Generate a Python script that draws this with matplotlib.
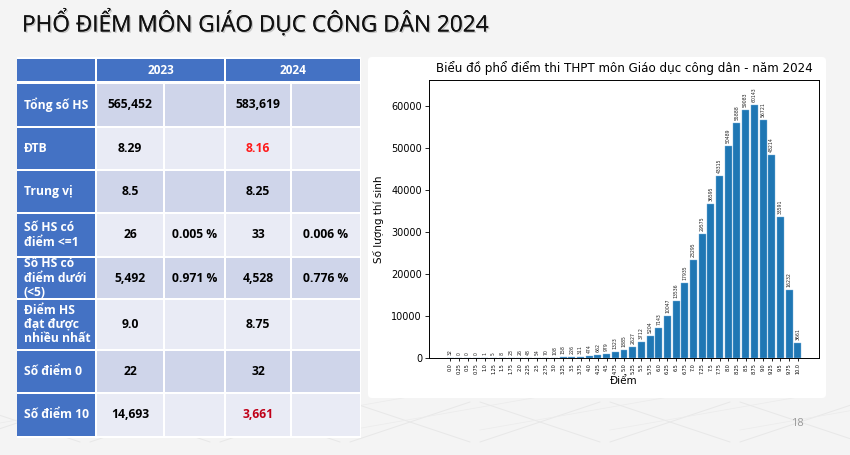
import matplotlib
matplotlib.use("Agg")
import matplotlib.pyplot as plt
from matplotlib.patches import Rectangle, FancyBboxPatch
import matplotlib.patheffects as pe
import numpy as np

# ---------------- data ----------------
scores = ["0.0", "0.25", "0.5", "0.75", "1.0", "1.25", "1.5", "1.75", "2.0", "2.25",
          "2.5", "2.75", "3.0", "3.25", "3.5", "3.75", "4.0", "4.25", "4.5", "4.75",
          "5.0", "5.25", "5.5", "5.75", "6.0", "6.25", "6.5", "6.75", "7.0", "7.25",
          "7.5", "7.75", "8.0", "8.25", "8.5", "8.75", "9.0", "9.25", "9.5", "9.75", "10.0"]
counts = [32, 0, 0, 0, 1, 5, 8, 23, 26, 48,
          54, 70, 108, 158, 226, 311, 474, 662, 979, 1323,
          1885, 2627, 3712, 5204, 7143, 10047, 13536, 17935, 23295, 29575,
          36595, 43315, 50489, 55888, 59083, 60143, 56721, 48214, 33591, 16232, 3661]

row_labels = ["Tổng số HS", "ĐTB", "Trung vị", "Số HS có\nđiểm <=1",
              "Số HS có\nđiểm dưới\n(<5)", "Điểm HS\nđạt được\nnhiều nhất",
              "Số điểm 0", "Số điểm 10"]
years = ["2023", "2024"]
v2023 = ["565,452", "8.29", "8.5", "26", "5,492", "9.0", "22", "14,693"]
p2023 = ["", "", "", "0.005 %", "0.971 %", "", "", ""]
v2024 = ["583,619", "8.16", "8.25", "33", "4,528", "8.75", "32", "3,661"]
p2024 = ["", "", "", "0.006 %", "0.776 %", "", "", ""]

title = "PHỔ ĐIỂM MÔN GIÁO DỤC CÔNG DÂN 2024"
chart_title = "Biểu đồ phổ điểm thi THPT môn Giáo dục công dân - năm 2024"

# ---------------- figure ----------------
W, H = 850, 455
fig = plt.figure(figsize=(W / 100, H / 100), dpi=100)
fig.patch.set_facecolor("#f4f4f4")

ax0 = fig.add_axes([0, 0, 1, 1])
ax0.set_xlim(0, W)
ax0.set_ylim(H, 0)
ax0.axis("off")

# decorative faint lines at the bottom
for x0 in range(-40, 900, 130):
    ax0.plot([x0, x0 + 120], [402, 442], color="#e8e8e8", lw=0.7, zorder=0)
    ax0.plot([x0 + 120, x0], [402, 442], color="#e8e8e8", lw=0.7, zorder=0)
    ax0.plot([x0, x0 + 200], [430, 395], color="#ebebeb", lw=0.5, zorder=0)

# title
ax0.text(22, 23, title, fontsize=16.3, family="Open Sans", color="#111111",
         va="center", ha="left",
         path_effects=[pe.withSimplePatchShadow(offset=(1, -1), shadow_rgbFace="#999999", alpha=0.5),
                       pe.Normal()])

# ---------------- table ----------------
blue = "#4472C4"
dark = "#CFD5EA"
light = "#E9EBF5"
cols = [(17, 95), (97, 163), (165, 224), (226, 290), (292, 360)]
rows_y = [(84, 126), (128, 169), (171, 212), (214, 256), (258, 298),
          (300, 349), (351, 392), (394, 436)]
hdr = (59, 81)

ax0.add_patch(Rectangle((17, 57), 344, 381, facecolor="white", edgecolor="none", zorder=1))
ax0.add_patch(Rectangle((cols[0][0], hdr[0]), cols[0][1] - cols[0][0], hdr[1] - hdr[0],
                        facecolor=blue, zorder=2))
for k, (a, b) in enumerate([(cols[1][0], cols[2][1]), (cols[3][0], cols[4][1])]):
    ax0.add_patch(Rectangle((a, hdr[0]), b - a, hdr[1] - hdr[0], facecolor=blue, zorder=2))
    ax0.text((a + b) / 2, (hdr[0] + hdr[1]) / 2, years[k], color="white", fontsize=8.5,
             fontweight="bold", family="Open Sans", ha="center", va="center", zorder=3)

for r, (y0, y1) in enumerate(rows_y):
    fill = dark if r % 2 == 0 else light
    for c, (x0, x1) in enumerate(cols):
        ax0.add_patch(Rectangle((x0, y0), x1 - x0, y1 - y0,
                                facecolor=blue if c == 0 else fill, zorder=2))
    yc = (y0 + y1) / 2
    ax0.text(24, yc, row_labels[r], color="white", fontsize=8.7, fontweight="bold",
             family="Open Sans", ha="left", va="center", linespacing=1.15, zorder=3)
    vals = [v2023[r], p2023[r], v2024[r], p2024[r]]
    for c, v in enumerate(vals):
        color = "black"
        if c == 2 and r == 1:
            color = "#FF1A1A"
        if c == 2 and r == 7:
            color = "#C00018"
        x0, x1 = cols[c + 1]
        ax0.text((x0 + x1) / 2, yc, v, color=color, fontsize=8.7, fontweight="bold",
                 family="Open Sans", ha="center", va="center", zorder=3)

# chart panel
ax0.add_patch(FancyBboxPatch((368, 57), 458, 341, boxstyle="round,pad=0,rounding_size=4",
                             facecolor="white", edgecolor="none", zorder=1))

# page number
ax0.text(797, 424, "18", color="#9a9a9a", fontsize=8, family="Open Sans",
         ha="center", va="center")

# ---------------- bar chart ----------------
L, R, T, B = 429, 819, 80, 358
ax = fig.add_axes([L / W, 1 - B / H, (R - L) / W, (B - T) / H])
x = np.arange(len(scores))
ax.bar(x, counts, color="#1f77b4", width=0.8, edgecolor="#7fb2dd", linewidth=0.3)
ax.set_ylim(0, max(counts) * 1.1)
ax.set_xticks(x)
ax.set_xticklabels(scores, rotation=90, fontsize=3.5)
ax.tick_params(axis="x", length=2.5, width=0.6, pad=1.5)
ax.tick_params(axis="y", labelsize=7, length=3, width=0.6, pad=2)
for sp in ax.spines.values():
    sp.set_linewidth(0.7)
for xi, v in zip(x, counts):
    ax.text(xi, v + 700, str(v), rotation=90, fontsize=3.3, ha="center", va="bottom",
            color="#222222")
ax.set_title(chart_title, fontsize=8.6, pad=6)
ax.set_xlabel("Điểm", fontsize=7.5, labelpad=1)
ax.set_ylabel("Số lượng thí sinh", fontsize=7.5, labelpad=5)

fig.savefig("out.png", dpi=100, facecolor=fig.get_facecolor())
